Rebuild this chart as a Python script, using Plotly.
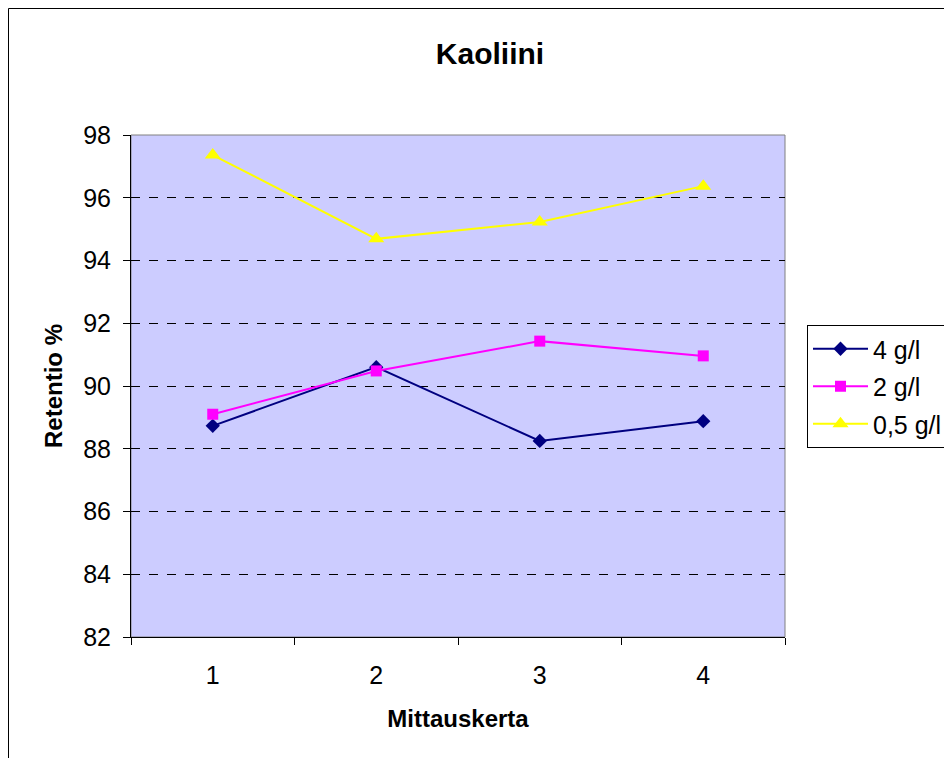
import plotly.graph_objects as go

categories = ["1", "2", "3", "4"]
s4 = [88.73, 90.6, 88.25, 88.88]
s2 = [89.1, 90.48, 91.43, 90.96]
s05 = [97.36, 94.69, 95.23, 96.37]
names = ["4 g/l", "2 g/l", "0,5 g/l"]
yticks = [82, 84, 86, 88, 90, 92, 94, 96, 98]

fig = go.Figure()
fig.add_trace(go.Scatter(x=categories, y=s4, name=names[0], mode="lines+markers",
                         legendgroup="a",
                         line=dict(color="#000080", width=2),
                         marker=dict(symbol="diamond", size=11, color="#000080")))
fig.add_trace(go.Scatter(x=categories, y=s2, name=names[1], mode="lines+markers",
                         legendgroup="b",
                         line=dict(color="#FF00FF", width=2),
                         marker=dict(symbol="square", size=11, color="#FF00FF")))
fig.add_trace(go.Scatter(x=categories, y=s05, name=names[2], mode="lines+markers",
                         legendgroup="c",
                         line=dict(color="#FFFF00", width=2),
                         marker=dict(symbol="triangle-up", size=14, color="#FFFF00")))

font = "Liberation Sans, Arial, sans-serif"
W, H = 944, 750
L, T, R, B = 123, 127, 167, 121
pw, ph = W - L - R, H - T - B
fig.update_layout(
    width=W, height=H,
    margin=dict(l=L, r=R, t=T, b=B, autoexpand=False),
    paper_bgcolor="white", plot_bgcolor="#CCCCFF",
    font=dict(family=font, size=25, color="black"),
    title=dict(text="<b>Kaoliini</b>", x=482 / W, xanchor="center",
               y=1 - 45 / H, yanchor="middle", font=dict(size=30)),
    showlegend=True,
    legend=dict(xref="container", yref="container",
                x=799 / W, xanchor="left", y=1 - 317 / H, yanchor="top",
                bordercolor="black", borderwidth=1, bgcolor="white",
                tracegroupgap=2, itemwidth=55,
                font=dict(size=25)),
    shapes=[
        dict(type="rect", xref="paper", yref="paper", x0=0, x1=1, y0=0, y1=1,
             line=dict(color="#808080", width=1), layer="below"),
        dict(type="line", xref="paper", yref="paper",
             x0=(0.5 - L) / pw, x1=(0.5 - L) / pw, y0=-0.5, y1=1 + (T - 0.5) / ph,
             line=dict(color="black", width=1)),
        dict(type="line", xref="paper", yref="paper",
             x0=(0.5 - L) / pw, x1=1.5, y0=1 + (T - 0.5) / ph, y1=1 + (T - 0.5) / ph,
             line=dict(color="black", width=1)),
    ],
)
fig.update_xaxes(type="category", tickson="boundaries", ticks="outside", ticklen=7,
                 tickcolor="black", showline=True, linecolor="black", linewidth=1,
                 showgrid=False, range=[-0.5, 3.5], ticklabelstandoff=16,
                 title=dict(text="<b>Mittauskerta</b>", font=dict(size=24), standoff=22))
fig.update_yaxes(range=[82, 98], tickvals=yticks, ticks="outside", ticklen=7,
                 tickcolor="black", showline=True, linecolor="black", linewidth=1,
                 showgrid=True, gridcolor="black", griddash="dash", gridwidth=1,
                 zeroline=False, ticklabelstandoff=7,
                 title=dict(text="<b>Retentio %</b>", font=dict(size=24), standoff=13))
fig.write_html("out.html")
